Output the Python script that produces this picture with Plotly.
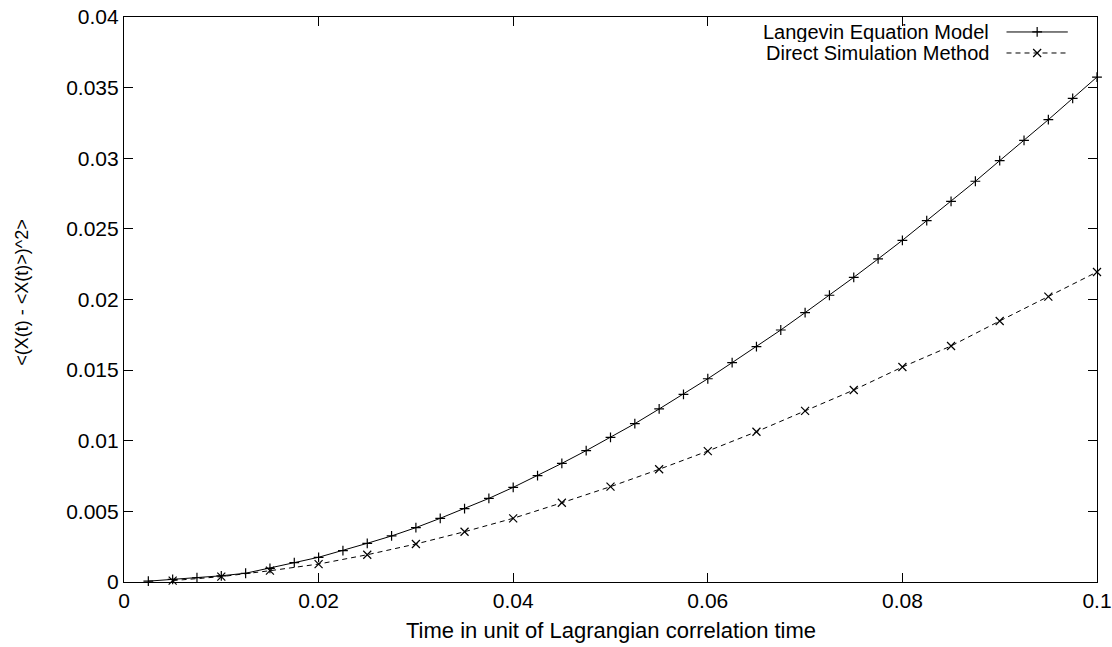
import plotly.graph_objects as go

# Langevin equation model: sampled every 0.0025
t_langevin = [0.0025 * i for i in range(1, 41)]
msd_langevin = [
    0.00006, 0.00018, 0.00030, 0.00044, 0.00062, 0.00097, 0.00137, 0.00175,
    0.00222, 0.00274, 0.00326, 0.00385, 0.00451, 0.00519, 0.00592, 0.00670,
    0.00753, 0.00840, 0.00930, 0.01024, 0.01121, 0.01225, 0.01329, 0.01439,
    0.01553, 0.01666, 0.01784, 0.01907, 0.02030, 0.02157, 0.02287, 0.02419,
    0.02558, 0.02695, 0.02837, 0.02983, 0.03127, 0.03273, 0.03424, 0.03575,
]

# Direct simulation method: sampled every 0.005
t_direct = [0.005 * i for i in range(1, 21)]
msd_direct = [
    0.00010, 0.00038, 0.00080, 0.00127, 0.00193, 0.00269, 0.00356, 0.00451,
    0.00561, 0.00675, 0.00798, 0.00927, 0.01064, 0.01211, 0.01359, 0.01522,
    0.01671, 0.01848, 0.02020, 0.02195,
]

series_names = ["Langevin Equation Model", "Direct Simulation Method"]
x_ticks = [0, 0.02, 0.04, 0.06, 0.08, 0.1]
x_ticktext = ["0", "0.02", "0.04", "0.06", "0.08", "0.1"]
y_ticks = [0, 0.005, 0.01, 0.015, 0.02, 0.025, 0.03, 0.035, 0.04]
y_ticktext = ["0", "0.005", "0.01", "0.015", "0.02", "0.025", "0.03", "0.035", "0.04"]
x_title = "Time in unit of Lagrangian correlation time"
y_title = "<(X(t) - <X(t)>)^2>"

FONT = "Liberation Sans, Arial, Helvetica, sans-serif"
DASH = "5px,4px"
PLUS = dict(symbol="cross-thin", size=7, line=dict(color="black", width=1.2))
CROSS = dict(symbol="x-thin", size=8, line=dict(color="black", width=1.2))

fig = go.Figure()
fig.add_trace(go.Scatter(
    x=t_langevin, y=msd_langevin, mode="lines+markers", name=series_names[0],
    line=dict(color="black", width=1), marker=PLUS,
    showlegend=False, cliponaxis=False,
))
fig.add_trace(go.Scatter(
    x=t_direct, y=msd_direct, mode="lines+markers", name=series_names[1],
    line=dict(color="black", width=1, dash=DASH), marker=CROSS,
    showlegend=False, cliponaxis=False,
))

# Key in the upper right: label text followed by a line sample with its marker
key_rows = [0.9735, 0.9363]
key_text_x = 0.890
key_line = (0.907, 0.970)
for name, yk, dash, mk in zip(series_names, key_rows, ["solid", DASH], [PLUS, CROSS]):
    fig.add_annotation(
        x=key_text_x, y=yk, xref="paper", yref="paper", text=name,
        showarrow=False, xanchor="right", yanchor="middle", height=21, borderpad=0,
        font=dict(family=FONT, size=20, color="black"),
    )
    fig.add_trace(go.Scatter(
        x=list(key_line), y=[yk, yk], xaxis="x2", yaxis="y2", mode="lines",
        line=dict(color="black", width=1, dash=dash), showlegend=False, hoverinfo="skip",
    ))
    fig.add_trace(go.Scatter(
        x=[sum(key_line) / 2], y=[yk], xaxis="x2", yaxis="y2", mode="markers",
        marker=mk, showlegend=False, hoverinfo="skip",
    ))

# Axis titles
fig.add_annotation(
    x=0.501, y=-0.085, xref="paper", yref="paper", text=x_title,
    showarrow=False, xanchor="center", yanchor="middle",
    font=dict(family=FONT, size=22, color="black"),
)
fig.add_annotation(
    x=-0.1048, y=0.512, xref="paper", yref="paper", text=y_title, textangle=-90,
    showarrow=False, xanchor="center", yanchor="middle",
    font=dict(family=FONT, size=18, color="black"),
)

axis_common = dict(
    showgrid=False, zeroline=False, showline=True, linecolor="black", linewidth=1.2,
    mirror="ticks", ticks="inside", ticklen=9, tickwidth=1, tickcolor="black",
    tickfont=dict(family=FONT, size=21, color="black"), automargin=False,
)

fig.update_layout(
    width=1112, height=647,
    margin=dict(l=124, r=15, t=17, b=65),
    paper_bgcolor="white", plot_bgcolor="white",
    font=dict(family=FONT, color="black"),
    xaxis=dict(range=[0, 0.1], tickvals=x_ticks, ticktext=x_ticktext, **axis_common),
    yaxis=dict(range=[0, 0.04], tickvals=y_ticks, ticktext=y_ticktext, **axis_common),
    xaxis2=dict(range=[0, 1], overlaying="x", visible=False, fixedrange=True),
    yaxis2=dict(range=[0, 1], overlaying="y", visible=False, fixedrange=True),
)

fig.write_html("out.html")
